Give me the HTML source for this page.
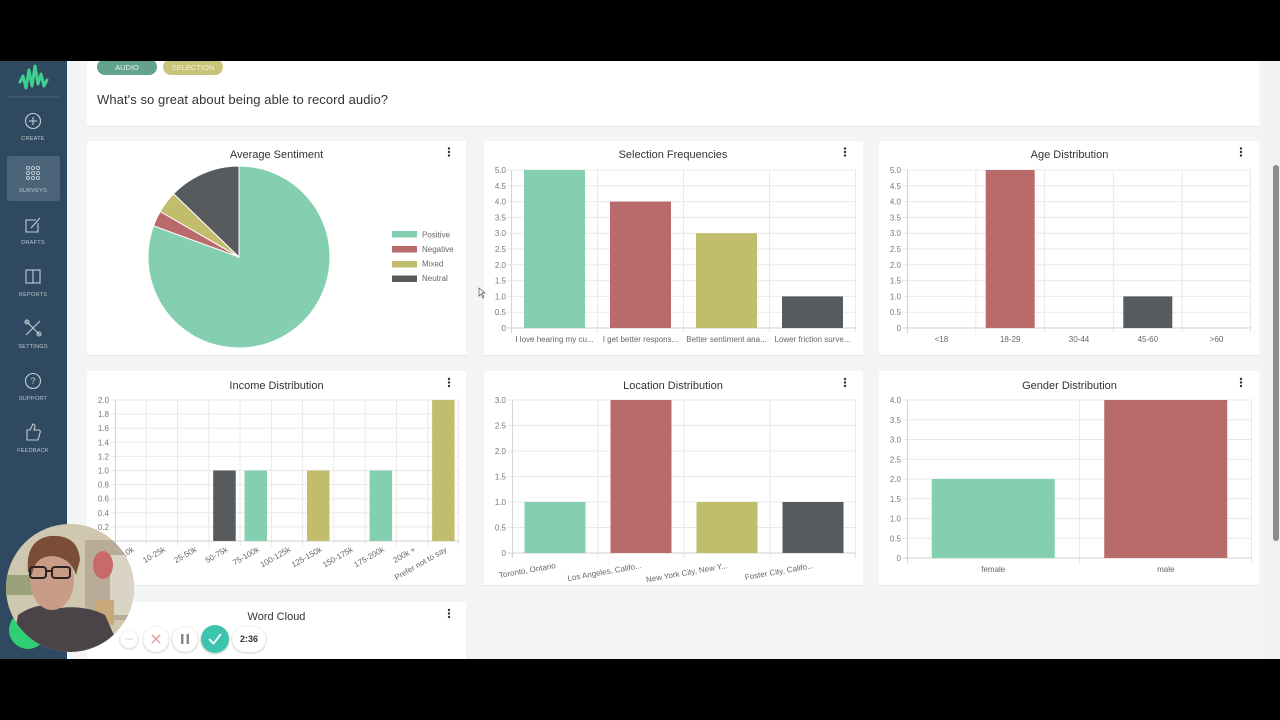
<!DOCTYPE html>
<html><head><meta charset="utf-8"><style>
html,body{margin:0;padding:0;width:1280px;height:720px;overflow:hidden;background:#000;}
svg{display:block;}
text{font-family:"Liberation Sans",sans-serif;}
</style></head><body>
<svg width="1280" height="720" viewBox="0 0 1280 720" xmlns="http://www.w3.org/2000/svg">
<!-- main background -->
<rect x="0" y="0" width="1280" height="720" fill="#f3f5f5"/>
<rect x="1263" y="0" width="17" height="720" fill="#f1f1f1"/>
<rect x="1273" y="165" width="6" height="376" rx="3" fill="#8c8c8c"/>

<!-- sidebar -->
<rect x="0" y="0" width="67" height="720" fill="#2f4a60"/>
<polyline points="20,82 23,76 26,88 29,70 32,86 35,66 38,84 41,74 44,86 47,80" fill="none" stroke="#3fd08f" stroke-width="3" stroke-linejoin="round" stroke-linecap="round"/>
<line x1="7" y1="97" x2="60" y2="97" stroke="#4d6478" stroke-width="1"/>
<g fill="none" stroke="#c3ccd5" stroke-width="1.1">
<circle cx="33" cy="121" r="7.5"/><line x1="29" y1="121" x2="37" y2="121"/><line x1="33" y1="117" x2="33" y2="125"/>
</g>
<rect x="7" y="156" width="53" height="45" rx="3" fill="#4c6479"/>
<g fill="none" stroke="#c3ccd5" stroke-width="0.9">
<circle cx="28" cy="168" r="1.6"/><circle cx="33" cy="168" r="1.6"/><circle cx="38" cy="168" r="1.6"/>
<circle cx="28" cy="173" r="1.6"/><circle cx="33" cy="173" r="1.6"/><circle cx="38" cy="173" r="1.6"/>
<circle cx="28" cy="178" r="1.6"/><circle cx="33" cy="178" r="1.6"/><circle cx="38" cy="178" r="1.6"/>
</g>
<g fill="none" stroke="#c3ccd5" stroke-width="1.1">
<path d="M36,220 L26,220 L26,232 L38,232 L38,223"/><line x1="31" y1="228" x2="40" y2="218"/>
<rect x="26" y="270" width="14" height="13"/><line x1="33" y1="270" x2="33" y2="283"/>
<line x1="26" y1="321" x2="40" y2="335"/><line x1="40" y1="321" x2="26" y2="335"/><circle cx="27" cy="322" r="2"/><circle cx="39" cy="334" r="2"/>
<circle cx="33" cy="381" r="7.5"/>
<path d="M27,430 L30,430 L33,424 Q35,424 35,427 L34,430 L39,430 Q41,431 40,433 L38,440 L27,440 Z"/>
</g>
<text x="33" y="384" font-size="9" fill="#c3ccd5" text-anchor="middle">?</text>
<g font-size="5.6" fill="#bcc6cf" text-anchor="middle" letter-spacing="0.2">
<text x="33" y="140">CREATE</text>
<text x="33" y="192">SURVEYS</text>
<text x="33" y="244">DRAFTS</text>
<text x="33" y="296">REPORTS</text>
<text x="33" y="348">SETTINGS</text>
<text x="33" y="400">SUPPORT</text>
<text x="33" y="452">FEEDBACK</text>
</g>

<!-- top card -->
<rect x="87" y="40" width="1172" height="87" fill="#e6e8e8"/>
<rect x="87" y="40" width="1172" height="86" fill="#ffffff"/>
<rect x="97" y="59" width="60" height="16" rx="8" fill="#62a28e"/>
<text x="127" y="70" font-size="7.5" fill="#e8f3ef" text-anchor="middle">AUDIO</text>
<rect x="163" y="59" width="60" height="16" rx="8" fill="#c9c47c"/>
<text x="193" y="70" font-size="7.5" fill="#f4f1c8" text-anchor="middle">SELECTION</text>
<text x="97" y="104" font-size="13" fill="#333" textLength="291">What's so great about being able to record audio?</text>

<!-- cards -->
<g fill="#e2e4e4">
<rect x="87" y="142" width="379" height="214"/><rect x="484" y="142" width="379" height="214"/><rect x="879" y="142" width="380" height="214"/>
<rect x="87" y="372" width="379" height="214"/><rect x="484" y="372" width="379" height="214"/><rect x="879" y="372" width="380" height="214"/>
<rect x="87" y="603" width="379" height="60"/>
</g>
<g fill="#ffffff">
<rect x="87" y="141" width="379" height="214"/><rect x="484" y="141" width="379" height="214"/><rect x="879" y="141" width="380" height="214"/>
<rect x="87" y="371" width="379" height="214"/><rect x="484" y="371" width="379" height="214"/><rect x="879" y="371" width="380" height="214"/>
<rect x="87" y="602" width="379" height="60"/>
</g>

<!-- titles -->
<g font-size="11" fill="#333" text-anchor="middle">
<text x="276.5" y="158">Average Sentiment</text>
<text x="673" y="158">Selection Frequencies</text>
<text x="1069.5" y="158">Age Distribution</text>
<text x="276.5" y="389">Income Distribution</text>
<text x="673" y="389">Location Distribution</text>
<text x="1069.5" y="389">Gender Distribution</text>
<text x="276.5" y="620">Word Cloud</text>
</g>
<!-- kebabs -->
<g fill="#333">
<circle cx="449" cy="148.5" r="1.2"/><circle cx="449" cy="152" r="1.2"/><circle cx="449" cy="155.5" r="1.2"/>
<circle cx="845" cy="148.5" r="1.2"/><circle cx="845" cy="152" r="1.2"/><circle cx="845" cy="155.5" r="1.2"/>
<circle cx="1241" cy="148.5" r="1.2"/><circle cx="1241" cy="152" r="1.2"/><circle cx="1241" cy="155.5" r="1.2"/>
<circle cx="449" cy="379" r="1.2"/><circle cx="449" cy="382.5" r="1.2"/><circle cx="449" cy="386" r="1.2"/>
<circle cx="845" cy="379" r="1.2"/><circle cx="845" cy="382.5" r="1.2"/><circle cx="845" cy="386" r="1.2"/>
<circle cx="1241" cy="379" r="1.2"/><circle cx="1241" cy="382.5" r="1.2"/><circle cx="1241" cy="386" r="1.2"/>
<circle cx="449" cy="610" r="1.2"/><circle cx="449" cy="613.5" r="1.2"/><circle cx="449" cy="617" r="1.2"/>
</g>

<!-- pie -->
<g stroke="#fff" stroke-width="1">
<path d="M239,257 L239,166 A91,91 0 1,1 153.49,225.88 Z" fill="#83cfb0"/>
<path d="M239,257 L153.49,225.88 A91,91 0 0,1 160.19,211.5 Z" fill="#b96a6a"/>
<path d="M239,257 L160.19,211.5 A91,91 0 0,1 173.54,193.78 Z" fill="#c2bd6c"/>
<path d="M239,257 L173.54,193.78 A91,91 0 0,1 239,166 Z" fill="#585b5e"/>
</g>
<rect x="392" y="231" width="25" height="6.5" fill="#83cfb0"/>
<rect x="392" y="246" width="25" height="6.5" fill="#b96a6a"/>
<rect x="392" y="261" width="25" height="6.5" fill="#c2bd6c"/>
<rect x="392" y="275.5" width="25" height="6.5" fill="#585b5e"/>
<g font-size="8" fill="#666">
<text x="422" y="237.5">Positive</text><text x="422" y="252">Negative</text><text x="422" y="266.5">Mixed</text><text x="422" y="281">Neutral</text>
</g>

<!-- Selection Frequencies -->
<g stroke="#e9e9e9" stroke-width="1">
<line x1="507" y1="170" x2="856" y2="170"/><line x1="507" y1="185.8" x2="856" y2="185.8"/><line x1="507" y1="201.6" x2="856" y2="201.6"/><line x1="507" y1="217.4" x2="856" y2="217.4"/><line x1="507" y1="233.2" x2="856" y2="233.2"/><line x1="507" y1="249" x2="856" y2="249"/><line x1="507" y1="264.8" x2="856" y2="264.8"/><line x1="507" y1="280.6" x2="856" y2="280.6"/><line x1="507" y1="296.4" x2="856" y2="296.4"/><line x1="507" y1="312.2" x2="856" y2="312.2"/>
<line x1="597.5" y1="170" x2="597.5" y2="333"/><line x1="683.5" y1="170" x2="683.5" y2="333"/><line x1="769.5" y1="170" x2="769.5" y2="333"/><line x1="855.5" y1="170" x2="855.5" y2="333"/>
</g>
<line x1="511.5" y1="170" x2="511.5" y2="333" stroke="#d5d5d5"/>
<line x1="507" y1="328" x2="856" y2="328" stroke="#d0d0d0"/>
<rect x="524" y="170" width="61" height="158" fill="#83cfb0"/>
<rect x="610" y="201.6" width="61" height="126.4" fill="#b96a6a"/>
<rect x="696" y="233.2" width="61" height="94.8" fill="#c2bd6c"/>
<rect x="782" y="296.4" width="61" height="31.6" fill="#585b5e"/>
<g font-size="8" fill="#777" text-anchor="end">
<text x="506" y="173">5.0</text><text x="506" y="188.8">4.5</text><text x="506" y="204.6">4.0</text><text x="506" y="220.4">3.5</text><text x="506" y="236.2">3.0</text><text x="506" y="252">2.5</text><text x="506" y="267.8">2.0</text><text x="506" y="283.6">1.5</text><text x="506" y="299.4">1.0</text><text x="506" y="315.2">0.5</text><text x="506" y="331">0</text>
</g>
<g font-size="8" fill="#666" text-anchor="middle">
<text x="554.5" y="342">I love hearing my cu...</text><text x="640.5" y="342">I get better respons...</text><text x="726.5" y="342">Better sentiment ana...</text><text x="812.5" y="342">Lower friction surve...</text>
</g>

<!-- Age Distribution -->
<g stroke="#e9e9e9" stroke-width="1">
<line x1="903" y1="170" x2="1251" y2="170"/><line x1="903" y1="185.8" x2="1251" y2="185.8"/><line x1="903" y1="201.6" x2="1251" y2="201.6"/><line x1="903" y1="217.4" x2="1251" y2="217.4"/><line x1="903" y1="233.2" x2="1251" y2="233.2"/><line x1="903" y1="249" x2="1251" y2="249"/><line x1="903" y1="264.8" x2="1251" y2="264.8"/><line x1="903" y1="280.6" x2="1251" y2="280.6"/><line x1="903" y1="296.4" x2="1251" y2="296.4"/><line x1="903" y1="312.2" x2="1251" y2="312.2"/>
<line x1="975.8" y1="170" x2="975.8" y2="333"/><line x1="1044.6" y1="170" x2="1044.6" y2="333"/><line x1="1113.4" y1="170" x2="1113.4" y2="333"/><line x1="1182.2" y1="170" x2="1182.2" y2="333"/><line x1="1250.5" y1="170" x2="1250.5" y2="333"/>
</g>
<line x1="907.5" y1="170" x2="907.5" y2="333" stroke="#d5d5d5"/>
<line x1="903" y1="328" x2="1251" y2="328" stroke="#d0d0d0"/>
<rect x="985.7" y="170" width="49" height="158" fill="#b96a6a"/>
<rect x="1123.3" y="296.4" width="49" height="31.6" fill="#585b5e"/>
<g font-size="8" fill="#777" text-anchor="end">
<text x="901" y="173">5.0</text><text x="901" y="188.8">4.5</text><text x="901" y="204.6">4.0</text><text x="901" y="220.4">3.5</text><text x="901" y="236.2">3.0</text><text x="901" y="252">2.5</text><text x="901" y="267.8">2.0</text><text x="901" y="283.6">1.5</text><text x="901" y="299.4">1.0</text><text x="901" y="315.2">0.5</text><text x="901" y="331">0</text>
</g>
<g font-size="8" fill="#666" text-anchor="middle">
<text x="941.4" y="342">&lt;18</text><text x="1010.2" y="342">18-29</text><text x="1079" y="342">30-44</text><text x="1147.8" y="342">45-60</text><text x="1216.6" y="342">&gt;60</text>
</g>

<!-- Income Distribution -->
<g stroke="#e9e9e9" stroke-width="1">
<line x1="111" y1="400" x2="459" y2="400"/><line x1="111" y1="414.1" x2="459" y2="414.1"/><line x1="111" y1="428.2" x2="459" y2="428.2"/><line x1="111" y1="442.3" x2="459" y2="442.3"/><line x1="111" y1="456.4" x2="459" y2="456.4"/><line x1="111" y1="470.5" x2="459" y2="470.5"/><line x1="111" y1="484.6" x2="459" y2="484.6"/><line x1="111" y1="498.7" x2="459" y2="498.7"/><line x1="111" y1="512.8" x2="459" y2="512.8"/><line x1="111" y1="526.9" x2="459" y2="526.9"/>
<line x1="146.3" y1="400" x2="146.3" y2="546"/><line x1="177.5" y1="400" x2="177.5" y2="546"/><line x1="208.8" y1="400" x2="208.8" y2="546"/><line x1="240.1" y1="400" x2="240.1" y2="546"/><line x1="271.4" y1="400" x2="271.4" y2="546"/><line x1="302.6" y1="400" x2="302.6" y2="546"/><line x1="333.9" y1="400" x2="333.9" y2="546"/><line x1="365.2" y1="400" x2="365.2" y2="546"/><line x1="396.5" y1="400" x2="396.5" y2="546"/><line x1="427.7" y1="400" x2="427.7" y2="546"/><line x1="458.5" y1="400" x2="458.5" y2="546"/>
</g>
<line x1="115.5" y1="400" x2="115.5" y2="546" stroke="#d5d5d5"/>
<line x1="111" y1="541" x2="459" y2="541" stroke="#d0d0d0"/>
<rect x="213.2" y="470.5" width="22.5" height="70.5" fill="#585b5e"/>
<rect x="244.5" y="470.5" width="22.5" height="70.5" fill="#83cfb0"/>
<rect x="307" y="470.5" width="22.5" height="70.5" fill="#c2bd6c"/>
<rect x="369.6" y="470.5" width="22.5" height="70.5" fill="#83cfb0"/>
<rect x="432.1" y="400" width="22.5" height="141" fill="#c2bd6c"/>
<g font-size="8" fill="#777" text-anchor="end">
<text x="109" y="403">2.0</text><text x="109" y="417.1">1.8</text><text x="109" y="431.2">1.6</text><text x="109" y="445.3">1.4</text><text x="109" y="459.4">1.2</text><text x="109" y="473.5">1.0</text><text x="109" y="487.6">0.8</text><text x="109" y="501.7">0.6</text><text x="109" y="515.8">0.4</text><text x="109" y="529.9">0.2</text><text x="109" y="544">0</text>
</g>
<g font-size="8" fill="#666" text-anchor="end">
<text transform="translate(134.6,551) rotate(-30)">&lt;10k</text>
<text transform="translate(165.9,551) rotate(-30)">10-25k</text>
<text transform="translate(197.2,551) rotate(-30)">25-50k</text>
<text transform="translate(228.5,551) rotate(-30)">50-75k</text>
<text transform="translate(259.7,551) rotate(-30)">75-100k</text>
<text transform="translate(291,551) rotate(-30)">100-125k</text>
<text transform="translate(322.3,551) rotate(-30)">125-150k</text>
<text transform="translate(353.5,551) rotate(-30)">150-175k</text>
<text transform="translate(384.8,551) rotate(-30)">175-200k</text>
<text transform="translate(416.1,551) rotate(-30)">200k +</text>
<text transform="translate(447.4,551) rotate(-30)">Prefer not to say</text>
</g>

<!-- Location Distribution -->
<g stroke="#e9e9e9" stroke-width="1">
<line x1="508" y1="400" x2="856" y2="400"/><line x1="508" y1="425.5" x2="856" y2="425.5"/><line x1="508" y1="451" x2="856" y2="451"/><line x1="508" y1="476.5" x2="856" y2="476.5"/><line x1="508" y1="502" x2="856" y2="502"/><line x1="508" y1="527.5" x2="856" y2="527.5"/>
<line x1="598" y1="400" x2="598" y2="558"/><line x1="684" y1="400" x2="684" y2="558"/><line x1="770" y1="400" x2="770" y2="558"/><line x1="855.5" y1="400" x2="855.5" y2="558"/>
</g>
<line x1="512.5" y1="400" x2="512.5" y2="558" stroke="#d5d5d5"/>
<line x1="508" y1="553" x2="856" y2="553" stroke="#d0d0d0"/>
<rect x="524.5" y="502" width="61" height="51" fill="#83cfb0"/>
<rect x="610.5" y="400" width="61" height="153" fill="#b96a6a"/>
<rect x="696.5" y="502" width="61" height="51" fill="#c2bd6c"/>
<rect x="782.5" y="502" width="61" height="51" fill="#585b5e"/>
<g font-size="8" fill="#777" text-anchor="end">
<text x="506" y="403">3.0</text><text x="506" y="428.5">2.5</text><text x="506" y="454">2.0</text><text x="506" y="479.5">1.5</text><text x="506" y="505">1.0</text><text x="506" y="530.5">0.5</text><text x="506" y="556">0</text>
</g>
<g font-size="8" fill="#666" text-anchor="end">
<text transform="translate(556,568) rotate(-10)">Toronto,  Ontario</text>
<text transform="translate(642,568) rotate(-10)">Los Angeles,  Califo...</text>
<text transform="translate(728,568) rotate(-10)">New York City, New Y...</text>
<text transform="translate(814,568) rotate(-10)">Foster City,  Califo...</text>
</g>

<!-- Gender Distribution -->
<g stroke="#e9e9e9" stroke-width="1">
<line x1="903" y1="400" x2="1252" y2="400"/><line x1="903" y1="419.75" x2="1252" y2="419.75"/><line x1="903" y1="439.5" x2="1252" y2="439.5"/><line x1="903" y1="459.25" x2="1252" y2="459.25"/><line x1="903" y1="479" x2="1252" y2="479"/><line x1="903" y1="498.75" x2="1252" y2="498.75"/><line x1="903" y1="518.5" x2="1252" y2="518.5"/><line x1="903" y1="538.25" x2="1252" y2="538.25"/>
<line x1="1079.5" y1="400" x2="1079.5" y2="563"/><line x1="1251.5" y1="400" x2="1251.5" y2="563"/>
</g>
<line x1="907.5" y1="400" x2="907.5" y2="563" stroke="#d5d5d5"/>
<line x1="903" y1="558" x2="1252" y2="558" stroke="#d0d0d0"/>
<rect x="931.75" y="479" width="123" height="79" fill="#83cfb0"/>
<rect x="1104.25" y="400" width="123" height="158" fill="#b96a6a"/>
<g font-size="8" fill="#777" text-anchor="end">
<text x="901" y="403">4.0</text><text x="901" y="422.75">3.5</text><text x="901" y="442.5">3.0</text><text x="901" y="462.25">2.5</text><text x="901" y="482">2.0</text><text x="901" y="501.75">1.5</text><text x="901" y="521.5">1.0</text><text x="901" y="541.25">0.5</text><text x="901" y="561">0</text>
</g>
<g font-size="8" fill="#666" text-anchor="middle">
<text x="993.25" y="572">female</text><text x="1165.75" y="572">male</text>
</g>

<!-- cursor -->
<path d="M479,288 L479,296 L481,294 L483,298 L484,297 L482,293 L485,293 Z" fill="#fff" stroke="#555" stroke-width="0.7"/>

<!-- webcam -->
<circle cx="28" cy="630" r="19" fill="#2fcf74"/>
<defs><clipPath id="cam"><circle cx="70" cy="588" r="64"/></clipPath></defs>
<g clip-path="url(#cam)">
<rect x="0" y="520" width="140" height="140" fill="#cfc7b0"/>
<rect x="0" y="575" width="60" height="20" fill="#9aa27a"/>
<rect x="85" y="540" width="50" height="80" fill="#b8ac98"/>
<rect x="110" y="555" width="25" height="60" fill="#d9d4c4"/>
<ellipse cx="103" cy="565" rx="10" ry="14" fill="#c86a6a"/>
<rect x="96" y="600" width="18" height="25" fill="#c9a87a"/>
<path d="M10,660 L18,615 Q40,600 60,608 Q85,605 105,615 L125,660 Z" fill="#4a4449"/>
<ellipse cx="52" cy="580" rx="22" ry="30" fill="#c99c87"/>
<path d="M28,572 Q25,540 50,536 Q78,534 80,560 L76,575 Q70,556 50,556 Q34,558 32,575 Z" fill="#7b4d36"/>
<g fill="none" stroke="#2a2222" stroke-width="2">
<rect x="30" y="567" width="16" height="11" rx="3"/><rect x="52" y="567" width="18" height="11" rx="3"/><line x1="46" y1="571" x2="52" y2="571"/>
</g>
</g>

<!-- recorder controls -->
<g fill="#e4e6e6">
<circle cx="129" cy="640" r="10"/>
<circle cx="156" cy="640" r="14"/>
<circle cx="185" cy="640" r="14"/>
<circle cx="215" cy="640" r="15"/>
<rect x="231" y="626" width="36" height="28" rx="14"/>
</g>
<circle cx="129" cy="639" r="9" fill="#fff" stroke="#ececec" stroke-width="0.8"/>
<text x="129" y="641" font-size="7" fill="#555" text-anchor="middle">···</text>
<circle cx="156" cy="639" r="13" fill="#fff" stroke="#ececec" stroke-width="0.8"/>
<g stroke="#e59a9a" stroke-width="1.4"><line x1="152" y1="635" x2="160" y2="643"/><line x1="160" y1="635" x2="152" y2="643"/></g>
<circle cx="185" cy="639" r="13" fill="#fff" stroke="#ececec" stroke-width="0.8"/>
<rect x="181" y="634" width="2.5" height="10" fill="#888"/><rect x="186.5" y="634" width="2.5" height="10" fill="#888"/>
<circle cx="215" cy="639" r="14" fill="#3cc4ad"/>
<path d="M209,639 L213.5,643.5 L221,634" fill="none" stroke="#fff" stroke-width="1.8"/>
<rect x="232" y="626" width="34" height="26" rx="13" fill="#fff" stroke="#ececec" stroke-width="0.8"/>
<text x="249" y="642" font-size="9" font-weight="bold" fill="#333" text-anchor="middle" font-family="Liberation Mono, monospace">2:36</text>

<!-- letterbox -->
<rect x="0" y="0" width="1280" height="61" fill="#000"/>
<rect x="0" y="659" width="1280" height="61" fill="#000"/>
</svg>
</body></html>
